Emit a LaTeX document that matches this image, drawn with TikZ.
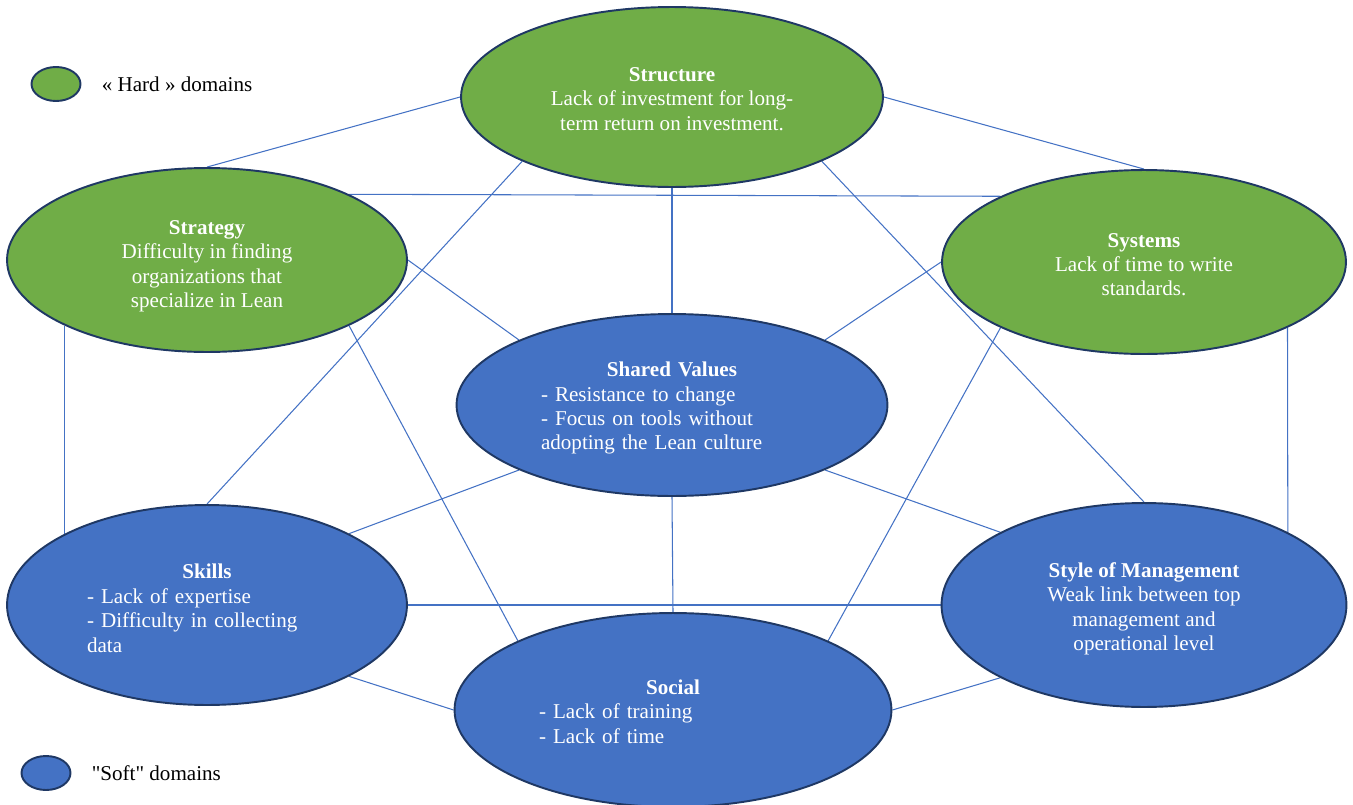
\documentclass[tikz,border=0pt]{standalone}
\usepackage{fontspec}
\setmainfont{Liberation Serif}
\newfontfamily\plainserif{Liberation Serif}
\usetikzlibrary{shapes.geometric, positioning, backgrounds}
\definecolor{hardgreen}{HTML}{70AD47}
\definecolor{softblue}{HTML}{4472C4}
\definecolor{rimnavy}{HTML}{1F3864}
\definecolor{linkblue}{HTML}{4472C4}

\begin{document}
\begin{tikzpicture}[x=0.02cm, y=-0.02cm,
    domnode/.style={ellipse, draw=rimnavy, line width=1.1pt, fill=#1, inner sep=0pt, text=white, font=\fontsize{12}{13.9}\selectfont, align=center},
    keynode/.style={ellipse, draw=rimnavy, line width=1.1pt, fill=#1, minimum width=0.98cm, minimum height=0.68cm},
    keytext/.style={inner sep=0pt, font=\fontsize{12}{13.9}\selectfont},
    link/.style={draw=linkblue, line width=0.6pt}
]
\useasboundingbox (0,0) rectangle (1353,805);

% hard domains
\node[domnode=hardgreen, minimum width=8.44cm, minimum height=3.6cm] (structure) at (672,97) {\rule{0pt}{10pt}\textbf{Structure}\\Lack of investment for long-\\term return on investment.};
\node[domnode=hardgreen, minimum width=8cm, minimum height=3.68cm] (strategy) at (207,260) {\rule{0pt}{15pt}\textbf{Strategy}\\Difficulty in finding\\organizations that\\specialize in Lean};
\node[domnode=hardgreen, minimum width=8.08cm, minimum height=3.68cm] (systems) at (1144,262) {\rule{0pt}{11pt}\textbf{Systems}\\Lack of time to write\\standards.};

% soft domains
\node[domnode=softblue, minimum width=8.62cm, minimum height=3.64cm, text width=5.24cm, align=left] (shared) at (672,405) {\rule{0pt}{12pt}\makebox[5.24cm]{\textbf{Shared Values}}\\- Resistance to change\\- Focus on tools without\\adopting the Lean culture};
\node[domnode=softblue, minimum width=8cm, minimum height=4cm, text width=4.8cm, align=left] (skills) at (207,605) {\rule{0pt}{12pt}\makebox[4.8cm]{\textbf{Skills}}\\- Lack of expertise\\- Difficulty in collecting\\data};
\node[domnode=softblue, minimum width=8.1cm, minimum height=4.08cm] (style) at (1144,605) {\rule{0pt}{13pt}\textbf{Style of Management}\\Weak link between top\\management and\\operational level};
\node[domnode=softblue, minimum width=8.74cm, minimum height=3.88cm, text width=5.36cm, align=left] (social) at (673,710) {\rule{0pt}{10pt}\makebox[5.36cm]{\textbf{Social}}\\- Lack of training\\- Lack of time};

% legend
\node[keynode=hardgreen] (hardkey) at (56,84) {};
\node[keytext, right=0.4cm of hardkey] (hardlabel) {« Hard » domains};
\node[keynode=softblue] (softkey) at (46,773) {};
\node[keytext, right=0.4cm of softkey] (softlabel) {{\plainserif "Soft"} domains};

\begin{scope}[on background layer]
\draw[link] (structure.west) -- (strategy.north);
\draw[link] (structure.east) -- (systems.north);
\draw[link] (strategy.north east) -- (systems.north west);
\draw[link] (structure.south west) -- (skills.north);
\draw[link] (structure.south) -- (shared.north);
\draw[link] (structure.south east) -- (style.north);
\draw[link] (strategy.east) -- (shared.north west);
\draw[link] (strategy.south east) -- (social.north west);
\draw[link] (strategy.south west) -- (skills.north west);
\draw[link] (systems.west) -- (shared.north east);
\draw[link] (systems.south west) -- (social.north east);
\draw[link] (systems.south east) -- (style.north east);
\draw[link] (shared.south west) -- (skills.north east);
\draw[link] (shared.south) -- (social.north);
\draw[link] (shared.south east) -- (style.north west);
\draw[link] (skills.east) -- (style.west);
\draw[link] (skills.south east) -- (social.west);
\draw[link] (social.east) -- (style.south west);
\end{scope}

\end{tikzpicture}
\end{document}
